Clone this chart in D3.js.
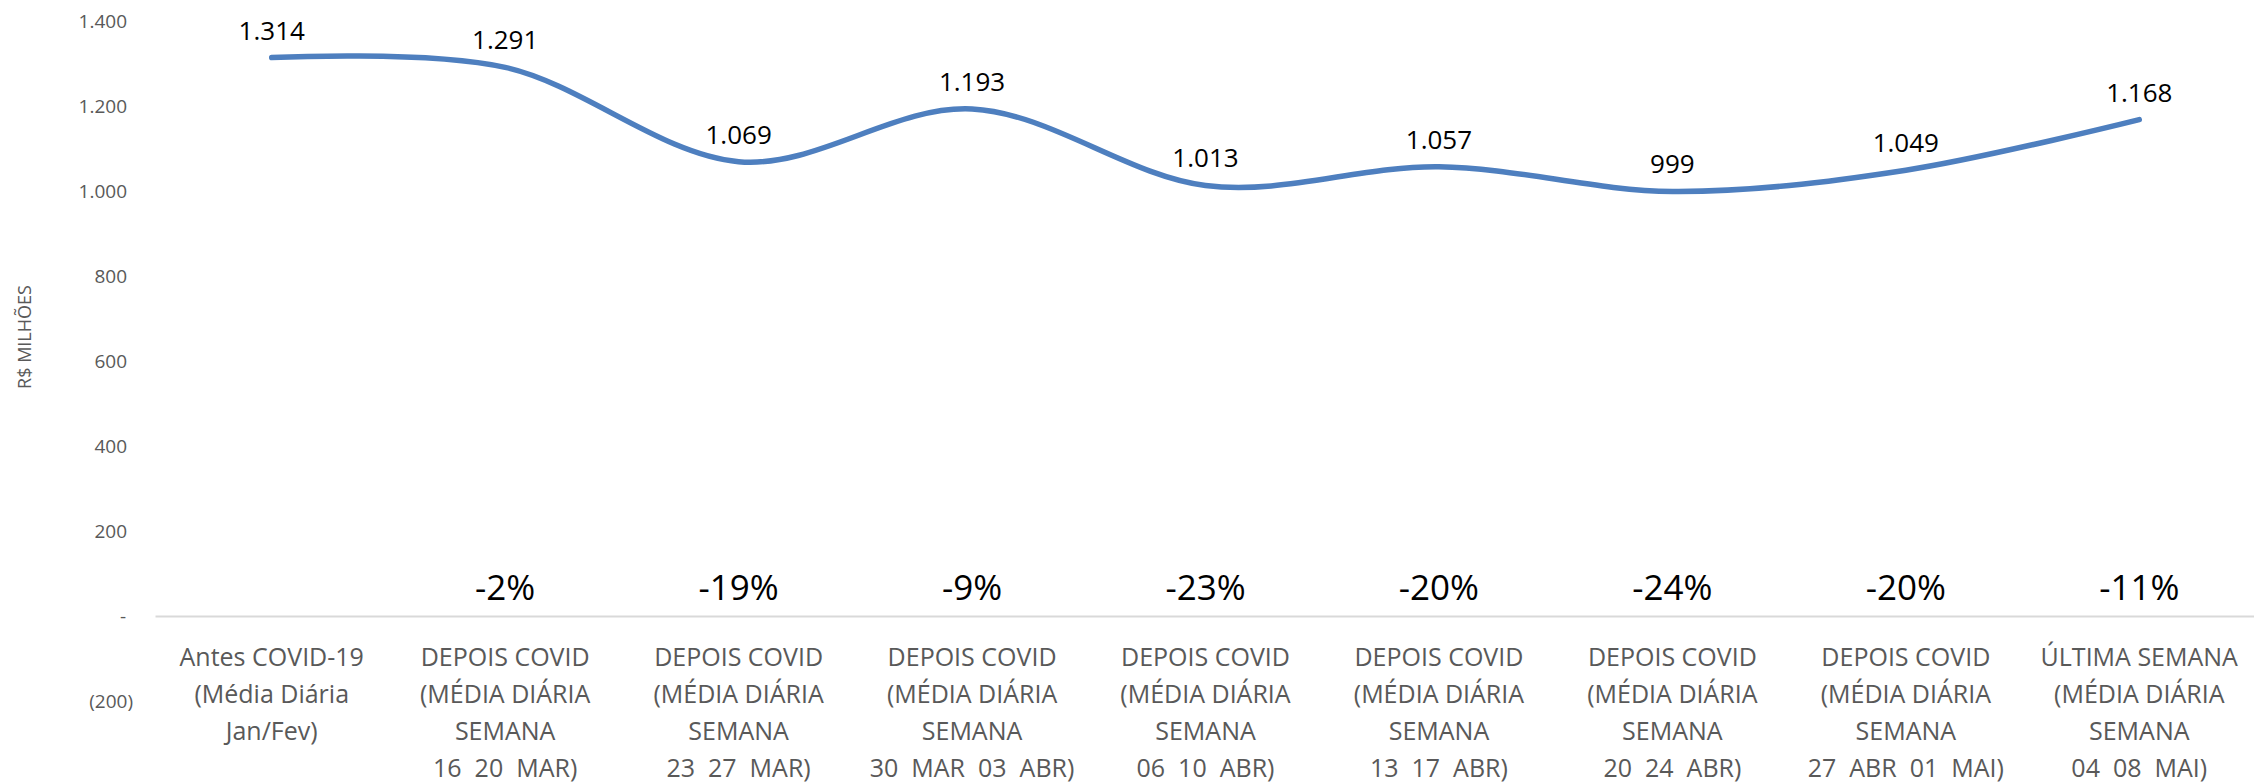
<!DOCTYPE html>
<html lang="pt">
<head>
    <meta charset="UTF-8">
    <title>R$ Milhões - média diária</title>
    <script src="https://d3js.org/d3.v7.min.js"></script>
    <style>
        body { margin: 0; background: #fff; }
        svg { display: block; font-family: "Open Sans", sans-serif; }
    </style>
</head>
<body>
    <div id="chart"></div>

    <script>
        // chart data
        const categories = [
            "Antes COVID-19\n(Média Diária\nJan/Fev)",
            "DEPOIS COVID\n(MÉDIA DIÁRIA\nSEMANA\n16  20  MAR)",
            "DEPOIS COVID\n(MÉDIA DIÁRIA\nSEMANA\n23  27  MAR)",
            "DEPOIS COVID\n(MÉDIA DIÁRIA\nSEMANA\n30  MAR  03  ABR)",
            "DEPOIS COVID\n(MÉDIA DIÁRIA\nSEMANA\n06  10  ABR)",
            "DEPOIS COVID\n(MÉDIA DIÁRIA\nSEMANA\n13  17  ABR)",
            "DEPOIS COVID\n(MÉDIA DIÁRIA\nSEMANA\n20  24  ABR)",
            "DEPOIS COVID\n(MÉDIA DIÁRIA\nSEMANA\n27  ABR  01  MAI)",
            "ÚLTIMA SEMANA\n(MÉDIA DIÁRIA\nSEMANA\n04  08  MAI)"
        ];
        const values = [1314, 1291, 1069, 1193, 1013, 1057, 999, 1049, 1168];
        const changes = ["", "-2%", "-19%", "-9%", "-23%", "-20%", "-24%", "-20%", "-11%"];
        const yTicks = [-200, 0, 200, 400, 600, 800, 1000, 1200, 1400];
        const yTitle = "R$ MILHÕES";

        const width = 2254;
        const height = 784;

        const svg = d3.select("#chart")
            .append("svg")
            .attr("width", width)
            .attr("height", height);

        const x = d3.scaleBand()
            .domain(categories)
            .range([155, 2256])
            .padding(0);

        const y = d3.scaleLinear()
            .domain([-200, 1400])
            .range([701, 21]);

        const cx = i => x(categories[i]) + x.bandwidth() / 2;

        // y axis (accounting style numbers)
        const fmt = d3.formatLocale({ decimal: ",", thousands: ".", grouping: [3], currency: ["R$", ""] }).format(",.0f");
        const yAxis = svg.append("g")
            .attr("transform", "translate(130,0)")
            .call(d3.axisLeft(y)
                .tickValues(yTicks)
                .tickSize(0)
                .tickPadding(3)
                .tickFormat(d => d === 0 ? "-" : d < 0 ? "(" + fmt(-d) + ")" : fmt(d)));
        yAxis.select(".domain").remove();
        yAxis.selectAll("text")
            .attr("fill", "#595959")
            .style("font-size", "19px")
            .style("font-family", "'Open Sans', sans-serif")
            .attr("x", d => d < 0 ? 3 : d === 0 ? -4 : -3);

        // y title
        svg.append("text")
            .attr("transform", "translate(31,337) rotate(-90)")
            .attr("text-anchor", "middle")
            .attr("fill", "#595959")
            .style("font-size", "18px")
            .text(yTitle);

        // x axis at zero
        const xAxis = svg.append("g")
            .attr("transform", `translate(0,${y(0)})`)
            .call(d3.axisBottom(x).tickSize(0).tickFormat(""));
        xAxis.select(".domain")
            .attr("stroke", "#d9d9d9")
            .attr("stroke-width", 2);

        // category labels, several lines each
        const catLabels = svg.append("g")
            .selectAll("text")
            .data(categories)
            .enter().append("text")
            .attr("text-anchor", "middle")
            .attr("fill", "#595959")
            .style("font-size", "25px")
            .style("white-space", "pre")
            .attr("x", (d, i) => cx(i))
            .attr("y", y(0) + 50);
        catLabels.selectAll("tspan")
            .data(function(d) {
                const c = categories.indexOf(d);
                return d.split("\n").map(t => ({ t, c }));
            })
            .enter().append("tspan")
            .attr("x", d => cx(d.c))
            .attr("dy", (d, i) => i === 0 ? 0 : 37)
            .text(d => d.t);

        // line
        const line = d3.line()
            .x((d, i) => cx(i))
            .y(d => y(d))
            .curve(d3.curveCatmullRom.alpha(0));

        svg.append("path")
            .datum(values)
            .attr("fill", "none")
            .attr("stroke", "#4e7fbf")
            .attr("stroke-width", 5.5)
            .attr("stroke-linecap", "round")
            .attr("stroke-linejoin", "round")
            .attr("d", line);

        // value labels
        svg.append("g")
            .selectAll("text")
            .data(values)
            .enter().append("text")
            .attr("text-anchor", "middle")
            .attr("fill", "#000")
            .style("font-size", "26px")
            .attr("x", (d, i) => cx(i))
            .attr("y", d => y(d) - 18)
            .text(d => fmt(d));

        // change labels near the zero line
        svg.append("g")
            .selectAll("text")
            .data(changes)
            .enter().append("text")
            .attr("text-anchor", "middle")
            .attr("fill", "#000")
            .style("font-size", "35px")
            .attr("x", (d, i) => cx(i))
            .attr("y", y(0) - 16)
            .text(d => d);
    </script>
</body>
</html>
